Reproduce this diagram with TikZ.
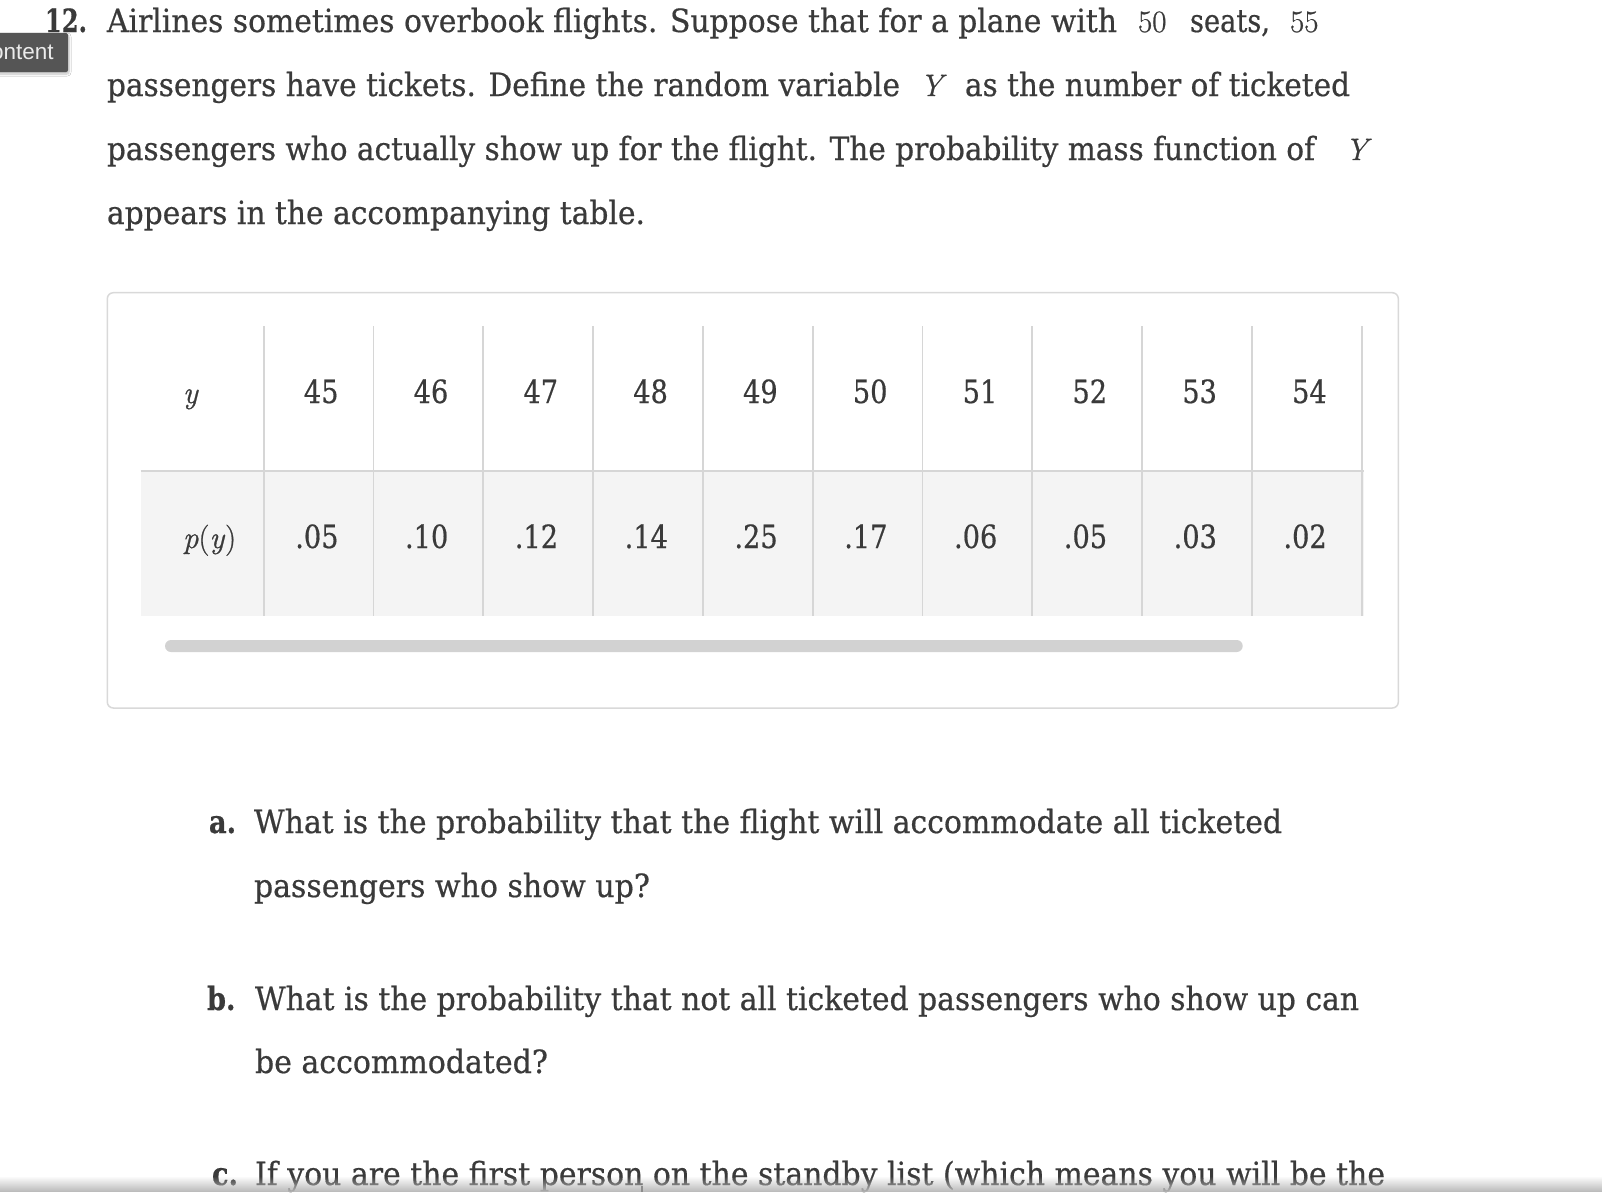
\documentclass[tikz,border=0pt]{standalone}
\usepackage[no-math]{fontspec}
\usepackage{graphicx}
\setmainfont[FakeStretch=0.85,FakeBold=0.5]{DejaVu Serif}
\newfontfamily\tabsans{Liberation Sans}
\newfontfamily\lmr[FakeBold=0.8]{Latin Modern Roman}
\usetikzlibrary{shadows.blur,fadings}
\definecolor{txt}{HTML}{3A3A3A}
\definecolor{gridc}{HTML}{D6D6D6}
\definecolor{rowbg}{HTML}{F4F4F4}
\definecolor{boxc}{HTML}{D9D9D9}
\definecolor{barc}{HTML}{D2D2D2}
\definecolor{tabc}{HTML}{555555}
\newcommand\fitto[2]{\resizebox{#1}{\height}{#2}}
\newcommand\bodyfont{\fontsize{32}{38}\selectfont}
\newcommand\mathsz{\lmr\fontsize{31}{36}\selectfont}
\begin{document}
\begin{tikzpicture}[x=1pt,y=-1pt,
  txtn/.style={anchor=base west, inner sep=0pt, outer sep=0pt, text=txt, font=\bodyfont},
  boldn/.style={txtn, font=\bodyfont\bfseries},
  numn/.style={anchor=base east, inner sep=0pt, outer sep=0pt, text=txt, font=\bodyfont},
  mathn/.style={anchor=base west, inner sep=0pt, outer sep=0pt, text=txt, font=\mathsz},
  gridline/.style={draw=gridc, line width=1.8pt}]
\useasboundingbox (0,0) rectangle (1602,1192);
\fill[white] (0,0) rectangle (1602,1192);

% question text
\node[boldn] (n12) at (45,32) {\fitto{42pt}{12.}};
\node[txtn] (l1) at (107,32) {\fitto{1010pt}{Airlines sometimes overbook flights. Suppose that for a plane with}};
\node[mathn] (m50) at (1138,32) {50};
\node[txtn] (seats) at (1190,32) {\fitto{80pt}{seats,}};
\node[mathn] (m55) at (1290,32) {55};
\node[txtn] (l2a) at (107,96) {\fitto{793pt}{passengers have tickets. Define the random variable}};
\node[mathn] (y1) at (920,96) {\itshape Y};
\node[txtn] (l2b) at (965,96) {\fitto{385pt}{as the number of ticketed}};
\node[txtn] (l3) at (107,160) {\fitto{1208pt}{passengers who actually show up for the flight. The probability mass function of}};
\node[mathn] (y2) at (1345,160) {\itshape Y};
\node[txtn] (l4) at (107,224) {\fitto{538pt}{appears in the accompanying table.}};

% table
\draw[draw=boxc, line width=1.5pt, rounded corners=6pt] (107.3,292.7) rectangle (1398.3,708);
\fill[rowbg] (140.7,471) rectangle (1364,615.7);
\draw[gridline] (140.7,471) -- (1364,471);
\foreach \k in {0,...,10} \draw[gridline] ({263.7+109.8*\k},326) -- ({263.7+109.8*\k},615.7);
\fill[barc, rounded corners=6pt] (165,640) rectangle (1242.7,652);
\node[mathn] (hy) at (183,403) {\itshape y};
\node[mathn] (hp) at (183,548) {\itshape p\/{\upshape(}y\/{\upshape)}};
\foreach \a/\b [count=\i] in {45/.05,46/.10,47/.12,48/.14,49/.25,50/.17,51/.06,52/.05,53/.03,54/.02}{
  \node[numn] (v\i) at ({263.7+109.8*\i-35},403) {\a};
  \node[numn] (p\i) at ({263.7+109.8*\i-35},548) {\b};
}

% parts
\node[boldn] (qa) at (209,833) {a.};
\node[txtn] (qa1) at (254,833) {\fitto{1028pt}{What is the probability that the flight will accommodate all ticketed}};
\node[txtn] (qa2) at (254,897) {\fitto{396pt}{passengers who show up?}};
\node[boldn] (qb) at (207,1010) {b.};
\node[txtn] (qb1) at (255,1010) {\fitto{1104pt}{What is the probability that not all ticketed passengers who show up can}};
\node[txtn] (qb2) at (255,1073) {\fitto{293pt}{be accommodated?}};
\node[boldn] (qc) at (212,1185) {c.};
\node[txtn] (qc1) at (255,1185) {\fitto{1130pt}{If you are the first person on the standby list (which means you will be the}};

% bottom band
\fill[black!28, path fading=north] (0,1176) rectangle (1602,1192);
\fill[black!45] (641,1186) rectangle (643,1192);

% side tab
\begin{scope}
\clip (0,0) rectangle (1602,1192);
\fill[tabc, rounded corners=2pt, blur shadow={shadow blur steps=6, shadow xshift=1pt, shadow yshift=-2pt, shadow opacity=25}] (-6,33) rectangle (68,72);
\node[anchor=base west, inner sep=0pt, outer sep=0pt, text=white!92!black, font=\tabsans\fontsize{22.5}{26}\selectfont] (tab) at (-8.8,59) {ontent};
\end{scope}
\end{tikzpicture}
\end{document}
